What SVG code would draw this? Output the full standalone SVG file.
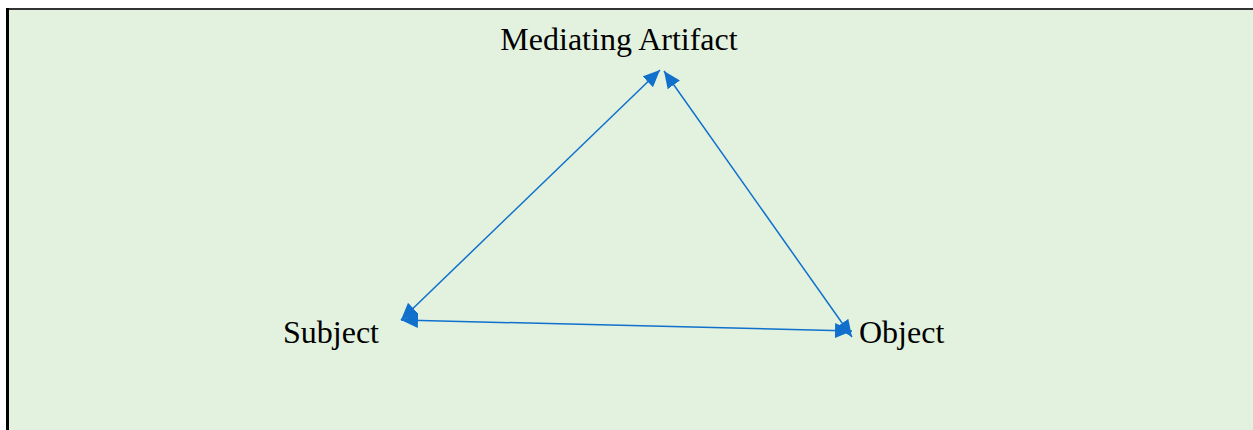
<svg xmlns="http://www.w3.org/2000/svg" width="1253" height="430" viewBox="0 0 1253 430">
  <defs>
    <style>
      .lbl { font-family: "Liberation Serif", "Times New Roman", serif; font-size: 32px; fill: #000; }
      .edge { stroke: #1070CC; stroke-width: 1.5; fill: none; marker-start: url(#ah); marker-end: url(#ah); }
    </style>
    <marker id="ah" viewBox="0 0 17 15" refX="17" refY="7.5" markerWidth="17" markerHeight="15" markerUnits="userSpaceOnUse" orient="auto-start-reverse">
      <path d="M0,0 L17,7.5 L0,15 Z" fill="#1070CC"/>
    </marker>
  </defs>
  <rect x="0" y="0" width="1253" height="430" fill="#ffffff"/>
  <rect x="8" y="10" width="1245" height="420" fill="#E2F2DF"/>
  <line x1="7" y1="9" x2="1253" y2="9" stroke="#333" stroke-width="2"/>
  <line x1="7.5" y1="8" x2="7.5" y2="430" stroke="#000" stroke-width="3"/>
  <g id="connectors">
    <line class="edge" x1="401" y1="320" x2="660" y2="70"/>
    <line class="edge" x1="664" y1="71" x2="852" y2="337"/>
    <line class="edge" x1="401" y1="320" x2="852" y2="331"/>
  </g>
  <g id="artifact">
    <text class="lbl" x="619" y="50" text-anchor="middle">Mediating Artifact</text>
  </g>
  <g id="subject">
    <text class="lbl" x="283" y="343">Subject</text>
  </g>
  <g id="object">
    <text class="lbl" x="859" y="343">Object</text>
  </g>
</svg>
